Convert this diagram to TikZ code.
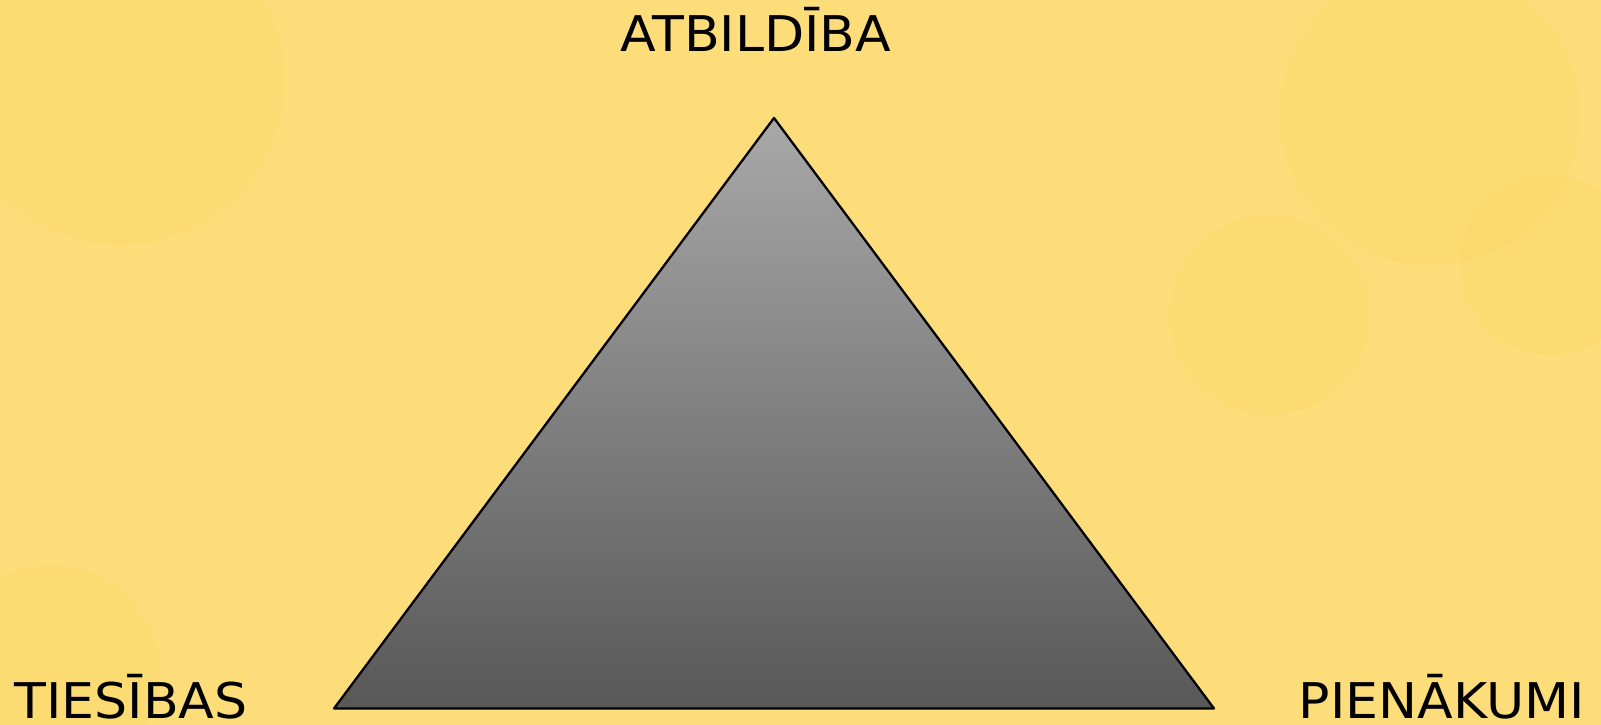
\documentclass[tikz,border=0pt]{standalone}
\usepackage{fontspec}
\setmainfont[FakeStretch=1.06]{DejaVu Sans}
\usepackage{tikz}
\usetikzlibrary{positioning, calc, backgrounds}
\definecolor{bgyellow}{RGB}{253,221,122}
\definecolor{spotyellow}{RGB}{250,212,90}
\definecolor{topgray}{RGB}{168,168,168}
\definecolor{botgray}{RGB}{88,88,88}
\tikzset{
  lbl/.style={font=\fontsize{28}{32}\selectfont, inner sep=0pt,
              text depth=0pt, text=black},
  tri/.style={draw=black, line width=1.3pt, line join=round,
              top color=topgray, bottom color=botgray},
  spot/.style={fill=spotyellow, opacity=0.22}
}

\begin{document}
\begin{tikzpicture}

  %% ── Fons ─────────────────────────────────────────────────
  \fill[bgyellow] (0,0) rectangle (32.02,14.5);
  \useasboundingbox (0,0) rectangle (32.02,14.5);
  \fill[spot] (2.4,12.9) circle (3.3);
  \fill[spot] (28.6,12.2) circle (3.0);
  \fill[spot] (31.0,9.2) circle (1.8);
  \fill[spot] (25.4,8.2) circle (2.0);
  \fill[spot] (1.0,1.0) circle (2.2);

  %% ── Trijstūris ───────────────────────────────────────────
  \coordinate (apex)  at (15.48,12.14);
  \coordinate (left)  at (6.68,0.33);
  \coordinate (right) at (24.28,0.33);
  \path[tri] (apex) -- (right) -- (left) -- cycle;

  %% uzraksti
  \node[lbl, anchor=base]      (atb) at (15.12,13.46) {ATBILDĪBA};
  \node[lbl, anchor=base west] (ties) at (0.28,0.12)  {TIESĪBAS};
  \node[lbl, anchor=base east] (pien) at (31.70,0.12) {PIENĀKUMI};

\end{tikzpicture}
\end{document}
